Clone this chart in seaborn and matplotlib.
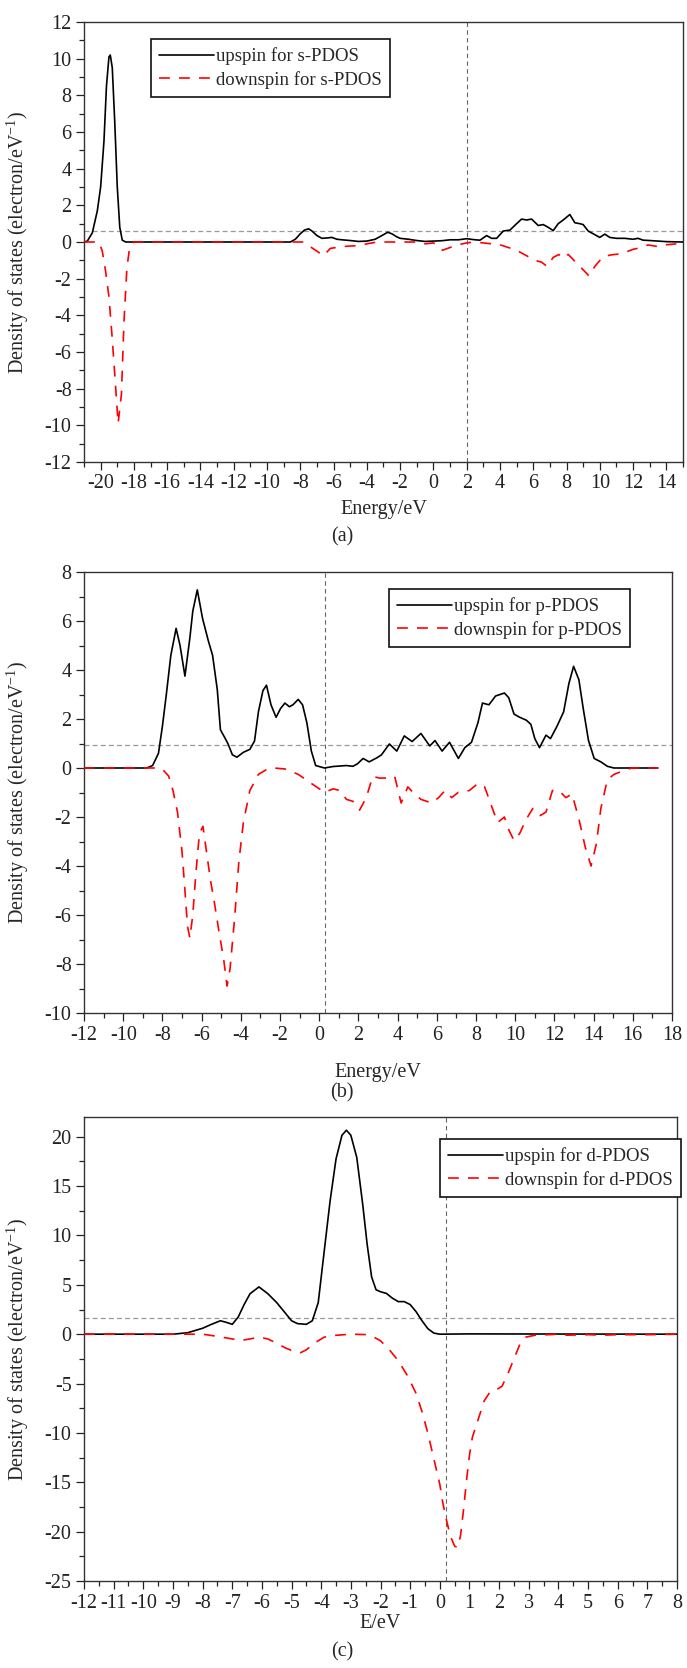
import matplotlib
matplotlib.use("Agg")
import matplotlib.pyplot as plt
from matplotlib.ticker import MultipleLocator
from matplotlib.transforms import blended_transform_factory
import seaborn as sns

sns.set_style("ticks")
plt.rcParams['font.family'] = ['Liberation Serif', 'DejaVu Serif']
plt.rcParams['mathtext.fontset'] = 'custom'
plt.rcParams['mathtext.rm'] = 'Liberation Serif'
plt.rcParams['axes.unicode_minus'] = False

# (energy, DOS) points
s_up = [(-21, 0), (-20.8, 0.05), (-20.5, 0.5), (-20.2, 1.7), (-20.0, 3.0), (-19.8, 5.5),
        (-19.65, 8.5), (-19.5, 10.1), (-19.42, 10.2), (-19.3, 9.5), (-19.15, 6.5),
        (-19.0, 3.0), (-18.85, 0.8), (-18.7, 0.1), (-18.5, 0), (-8.6, 0), (-8.3, 0.15),
        (-8.0, 0.45), (-7.75, 0.65), (-7.5, 0.72), (-7.3, 0.6), (-7.0, 0.35), (-6.7, 0.2),
        (-6.4, 0.22), (-6.1, 0.25), (-5.8, 0.15), (-5.5, 0.12), (-5.0, 0.08), (-4.5, 0.03),
        (-4.0, 0.05), (-3.5, 0.15), (-3.0, 0.4), (-2.75, 0.53), (-2.5, 0.45), (-2.2, 0.28),
        (-2.0, 0.2), (-1.5, 0.15), (-1.0, 0.08), (-0.5, 0.03), (0.0, 0.05), (0.5, 0.07),
        (1.0, 0.12), (1.5, 0.12), (2.0, 0.18), (2.5, 0.12), (2.8, 0.1), (3.2, 0.35),
        (3.5, 0.2), (3.8, 0.2), (4.2, 0.6), (4.6, 0.65), (5.0, 1.0), (5.3, 1.25), (5.6, 1.2),
        (5.9, 1.25), (6.3, 0.9), (6.6, 0.95), (6.9, 0.8), (7.2, 0.62), (7.5, 1.0), (7.8, 1.2),
        (8.0, 1.35), (8.2, 1.5), (8.5, 1.05), (8.8, 1.0), (9.0, 0.95), (9.3, 0.6), (9.7, 0.4),
        (10.0, 0.25), (10.3, 0.43), (10.6, 0.25), (11.0, 0.2), (11.5, 0.2), (12.0, 0.15),
        (12.3, 0.2), (12.6, 0.1), (13.0, 0.08), (13.5, 0.05), (14.0, 0.02), (15.0, 0)]
s_down = [(-21, 0), (-20.1, 0), (-19.9, -0.5), (-19.7, -1.6), (-19.5, -3.0), (-19.3, -5.3),
          (-19.1, -7.9), (-18.95, -9.9), (-18.75, -8.3), (-18.6, -4.4), (-18.42, -1.4),
          (-18.25, -0.25), (-18.0, 0), (-7.8, 0), (-7.5, -0.2), (-7.0, -0.5), (-6.6, -0.75),
          (-6.2, -0.35), (-5.5, -0.25), (-5.0, -0.22), (-4.5, -0.2), (-4.0, -0.1),
          (-3.5, -0.02), (-3.0, 0), (-1.0, 0), (-0.5, -0.1), (0.0, -0.05), (0.3, -0.2),
          (0.55, -0.45), (1.0, -0.3), (1.5, -0.15), (2.0, -0.05), (2.5, 0), (3.0, -0.05),
          (3.5, -0.1), (4.0, -0.15), (4.5, -0.3), (5.0, -0.45), (5.5, -0.7), (6.1, -1.0),
          (6.5, -1.1), (6.83, -1.33), (7.2, -0.84), (7.54, -0.68), (7.75, -0.88), (8.1, -0.68),
          (8.7, -1.23), (9.35, -1.85), (9.7, -1.33), (10.2, -0.8), (10.7, -0.7), (11.3, -0.64),
          (12.0, -0.4), (12.5, -0.3), (12.9, -0.16), (13.5, -0.25), (14.0, -0.15), (14.6, -0.1)]

p_up = [(-12, 0), (-8.8, 0), (-8.5, 0.1), (-8.2, 0.6), (-8.0, 1.7), (-7.8, 3.0), (-7.57, 4.6),
        (-7.3, 5.7), (-7.1, 5.0), (-6.85, 3.75), (-6.6, 5.3), (-6.45, 6.4), (-6.22, 7.27),
        (-5.95, 6.1), (-5.66, 5.2), (-5.44, 4.6), (-5.2, 3.2), (-5.04, 1.56), (-4.84, 1.27),
        (-4.66, 1.0), (-4.43, 0.54), (-4.2, 0.44), (-3.87, 0.64), (-3.54, 0.76), (-3.3, 1.1),
        (-3.1, 2.3), (-2.87, 3.16), (-2.69, 3.38), (-2.46, 2.58), (-2.2, 2.07), (-1.97, 2.43),
        (-1.75, 2.65), (-1.52, 2.5), (-1.34, 2.58), (-1.07, 2.8), (-0.85, 2.58), (-0.63, 1.85),
        (-0.4, 0.69), (-0.18, 0.1), (0.27, 0), (0.7, 0.06), (1.38, 0.1), (1.72, 0.07),
        (1.95, 0.17), (2.24, 0.39), (2.55, 0.25), (2.95, 0.42), (3.18, 0.54), (3.58, 0.98),
        (3.96, 0.69), (4.34, 1.31), (4.74, 1.08), (5.19, 1.41), (5.64, 0.9), (5.91, 1.12),
        (6.27, 0.69), (6.65, 1.05), (7.1, 0.39), (7.43, 0.83), (7.77, 1.05), (8.1, 1.85),
        (8.33, 2.65), (8.66, 2.58), (9.0, 2.94), (9.45, 3.06), (9.67, 2.87), (9.94, 2.2),
        (10.23, 2.07), (10.57, 1.95), (10.8, 1.78), (11.0, 1.2), (11.24, 0.83), (11.57, 1.34),
        (11.8, 1.2), (12.13, 1.7), (12.47, 2.29), (12.74, 3.45), (12.98, 4.15), (13.25, 3.6),
        (13.47, 2.43), (13.74, 1.12), (14.03, 0.39), (14.37, 0.25), (14.7, 0.07), (15.04, 0),
        (17.28, 0)]
p_down = [(-12, 0), (-8.2, 0), (-8.0, -0.05), (-7.68, -0.33), (-7.46, -0.92), (-7.23, -1.8),
          (-7.0, -3.4), (-6.85, -5.0), (-6.72, -6.46), (-6.6, -6.94), (-6.45, -6.0),
          (-6.29, -4.27), (-6.11, -2.67), (-5.93, -2.38), (-5.78, -3.25), (-5.55, -4.56),
          (-5.33, -5.58), (-5.1, -6.75), (-4.88, -7.77), (-4.7, -8.9), (-4.55, -8.2),
          (-4.32, -6.17), (-4.1, -3.83), (-3.87, -2.23), (-3.54, -0.92), (-3.1, -0.26),
          (-2.64, -0.04), (-2.3, 0), (-1.75, -0.04), (-1.07, -0.26), (-0.4, -0.63),
          (0.27, -0.99), (0.72, -0.85), (1.05, -0.92), (1.39, -1.28), (1.72, -1.36),
          (2.06, -1.72), (2.4, -1.21), (2.73, -0.34), (3.07, -0.41), (3.5, -0.41),
          (3.85, -0.34), (4.18, -1.43), (4.52, -0.77), (4.86, -1.06), (5.19, -1.28),
          (5.75, -1.43), (6.09, -1.21), (6.42, -0.92), (6.76, -1.21), (7.1, -0.99),
          (7.66, -0.92), (8.1, -0.63), (8.44, -0.77), (8.77, -1.5), (9.1, -2.23), (9.45, -2.0),
          (9.67, -2.52), (9.94, -2.96), (10.23, -2.67), (10.57, -2.08), (10.9, -1.65),
          (11.28, -1.94), (11.57, -1.8), (11.9, -0.92), (12.24, -0.92), (12.58, -1.21),
          (12.9, -1.06), (13.25, -2.08), (13.58, -3.25), (13.87, -4.0), (14.14, -3.1),
          (14.37, -1.65), (14.7, -0.48), (15.04, -0.26), (15.5, -0.12), (15.94, 0), (17.28, 0)]

d_up = [(-12, 0), (-9.0, 0), (-8.5, 0.15), (-8.0, 0.6), (-7.7, 1.0), (-7.4, 1.36), (-7.2, 1.2),
        (-7.0, 1.0), (-6.8, 1.73), (-6.6, 3.0), (-6.4, 4.1), (-6.1, 4.79), (-5.8, 4.1),
        (-5.5, 3.2), (-5.2, 2.1), (-5.0, 1.36), (-4.8, 1.07), (-4.5, 1.0), (-4.3, 1.36),
        (-4.1, 3.2), (-3.9, 8.36), (-3.7, 13.5), (-3.5, 17.75), (-3.3, 20.15), (-3.15, 20.66),
        (-3.0, 20.15), (-2.8, 17.9), (-2.6, 13.15), (-2.45, 9.1), (-2.3, 5.8), (-2.15, 4.5),
        (-2.0, 4.3), (-1.8, 4.13), (-1.6, 3.65), (-1.4, 3.3), (-1.2, 3.3), (-1.0, 3.0),
        (-0.8, 2.28), (-0.6, 1.36), (-0.4, 0.55), (-0.2, 0.11), (0.0, 0), (1.0, 0.03),
        (3.0, 0.02), (8.0, 0)]
d_down = [(-12, 0), (-8.0, 0), (-7.5, -0.22), (-7.0, -0.48), (-6.7, -0.63), (-6.4, -0.48),
          (-6.1, -0.3), (-5.8, -0.48), (-5.5, -0.92), (-5.2, -1.4), (-4.9, -1.77),
          (-4.7, -1.88), (-4.5, -1.58), (-4.2, -0.85), (-3.9, -0.3), (-3.5, -0.11), (-3.0, 0),
          (-2.5, -0.04), (-2.3, -0.18), (-2.0, -0.66), (-1.7, -1.58), (-1.4, -2.69),
          (-1.1, -4.16), (-0.8, -6.0), (-0.6, -7.85), (-0.4, -10.06), (-0.2, -12.63),
          (0.0, -15.2), (0.1, -17.05), (0.2, -18.5), (0.35, -20.4), (0.5, -21.47),
          (0.6, -21.6), (0.7, -20.4), (0.8, -17.8), (0.9, -14.84), (1.0, -12.26),
          (1.1, -10.42), (1.3, -8.58), (1.5, -6.74), (1.7, -5.82), (1.9, -5.64), (2.1, -5.27),
          (2.3, -3.98), (2.5, -2.5), (2.7, -1.03), (2.9, -0.3), (3.2, -0.11), (4.0, 0),
          (4.3, -0.1), (5.0, -0.05), (5.5, -0.1), (6.0, -0.05), (7.0, -0.05), (8.0, 0)]

W, H = 687, 1668
fig = plt.figure(figsize=(W / 100, H / 100), dpi=100)


def px_axes(l, t, r, b):
    return fig.add_axes([l / W, 1 - b / H, (r - l) / W, (b - t) / H])


def panel(ax, up, down, orb, xlim, ylim, xmaj, xmin, ymaj, ymin, vx, hy, xlabel, lpad, leg_xy):
    for pts, col, ls in [(up, 'black', '-'), (down, 'red', (0, (6.5, 5.5)))]:
        xs = [p[0] for p in pts]
        ys = [p[1] for p in pts]
        sns.lineplot(x=xs, y=ys, ax=ax, color=col, linestyle=ls, linewidth=1.2,
                     estimator=None, zorder=3)
    ax.axvline(vx, color='#666666', lw=0.8, ls=(0, (4, 3)), zorder=1)
    ax.axhline(hy, color='#999999', lw=0.9, ls=(0, (4, 2.5)), zorder=1)
    ax.set_xlim(*xlim)
    ax.set_ylim(*ylim)
    ax.xaxis.set_major_locator(MultipleLocator(xmaj))
    ax.xaxis.set_minor_locator(MultipleLocator(xmin))
    ax.yaxis.set_major_locator(MultipleLocator(ymaj))
    ax.yaxis.set_minor_locator(MultipleLocator(ymin))
    ax.tick_params(which='major', direction='out', length=6, width=0.9, labelsize=14.5,
                   pad=3, colors='#222222')
    ax.tick_params(which='minor', direction='out', length=3.5, width=0.9, colors='#222222')
    for sp in ax.spines.values():
        sp.set_visible(True)
        sp.set_linewidth(1.0)
        sp.set_color('#333333')
    ax.set_xlabel(xlabel, fontsize=14.5, labelpad=lpad)
    ax.set_ylabel('Density of states (electron/eV$^{-1}$)', fontsize=14.5)
    ax.yaxis.set_label_coords(31 / W, 0.5,
                              transform=blended_transform_factory(fig.transFigure, ax.transAxes))
    lines = ax.get_lines()[:2]
    ax.legend(lines, ['upspin for %s-PDOS' % orb, 'downspin for %s-PDOS' % orb],
              loc='upper left', bbox_to_anchor=(leg_xy[0] / W, 1 - leg_xy[1] / H),
              bbox_transform=fig.transFigure, borderaxespad=0, fontsize=13.5,
              handlelength=2.9, handletextpad=0.1, borderpad=0.45, labelspacing=0.3,
              fancybox=False, framealpha=1, edgecolor='#111111')
    ax.get_legend().get_frame().set_linewidth(1.2)


ax_a = px_axes(84, 22, 683, 462)
panel(ax_a, s_up, s_down, 's', (-21, 15), (-12, 12), 2, 1, 2, 1, 2.0, 0.62,
      'Energy/eV', 5, (151, 39))
ax_b = px_axes(84, 572, 672, 1013)
panel(ax_b, p_up, p_down, 'p', (-12, 18), (-10, 8), 2, 1, 2, 1, 0.3, 0.92,
      'Energy/eV', 13, (389, 589))
ax_c = px_axes(84, 1117, 677, 1581)
panel(ax_c, d_up, d_down, 'd', (-12, 8), (-25, 22), 1, 0.5, 5, 2.5, 0.2, 1.62,
      'E/eV', 1, (440, 1139))

for txt, y in [('(a)', 537), ('(b)', 1093), ('(c)', 1652)]:
    fig.text(342 / W, 1 - y / H, txt, ha='center', va='center', fontsize=14.5)

fig.savefig('out.png', dpi=100)
